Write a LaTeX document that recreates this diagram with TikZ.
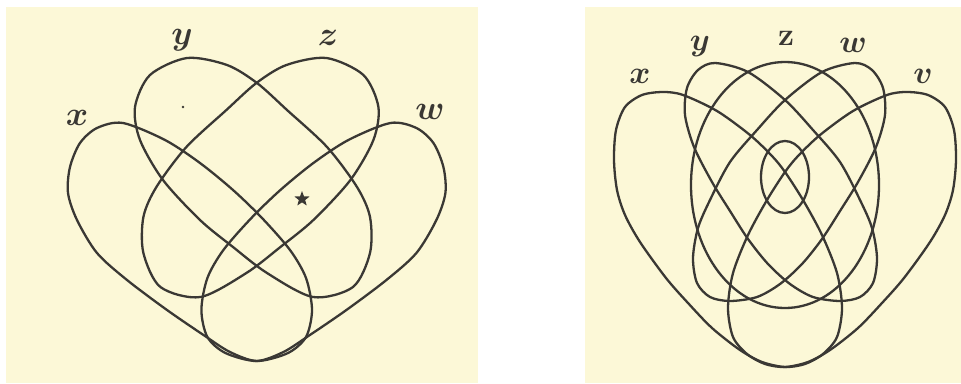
\RequirePackage{fix-cm}
\documentclass[tikz,border=0pt]{standalone}
\usetikzlibrary{shapes.geometric}
\definecolor{paper}{RGB}{252,248,215}
\definecolor{ink}{RGB}{58,56,52}
\begin{document}
\begin{tikzpicture}[x=1pt,y=-1pt,
  curve/.style={draw=ink, line width=2.3pt},
  lab/.style={text=ink, inner sep=0pt, font=\fontsize{34}{34}\selectfont\boldmath},
  labb/.style={text=ink, inner sep=0pt, font=\fontsize{32}{32}\selectfont\boldmath}]
\useasboundingbox (0,0) rectangle (961,383);
\fill[white] (0,0) rectangle (961,383);
\fill[paper] (6,7) rectangle (478,383);
\fill[paper] (585,7) rectangle (961,383);

% ---------- left: four terms ----------
% y
\draw[curve] plot[smooth cycle] coordinates {(187,58) (227,65) (257,83) (287,110) (327,147) (357,187) (370,217) (370,253) (353,287) (313,297) (267,273) (233,247) (200,220) (163,180) (140,140) (135,107) (150,75)};
% z (mirror of y)
\begin{scope}[shift={(513.4,0)}, xscale=-1]
\draw[curve] plot[smooth cycle] coordinates {(187,58) (227,65) (257,83) (287,110) (327,147) (357,187) (370,217) (370,253) (353,287) (313,297) (267,273) (233,247) (200,220) (163,180) (140,140) (135,107) (150,75)};
\end{scope}
% x
\draw[curve] plot[smooth cycle] coordinates {(123,123) (165,140) (200,163) (233,190) (262,218) (290,250) (306,278) (312,310) (306,337) (288,353) (257,361) (230,352) (205,336) (167,310) (127,280) (97,253) (77,220) (68,193) (70,167) (80,143) (97,128)};
% w (mirror of x)
\begin{scope}[shift={(513.4,0)}, xscale=-1]
\draw[curve] plot[smooth cycle] coordinates {(123,123) (165,140) (200,163) (233,190) (262,218) (290,250) (306,278) (312,310) (306,337) (288,353) (257,361) (230,352) (205,336) (167,310) (127,280) (97,253) (77,220) (68,193) (70,167) (80,143) (97,128)};
\end{scope}
\fill[ink] (183,107) circle (1.4pt);
\node[star, star points=5, star point ratio=2.4, fill=ink, inner sep=0pt, minimum size=16pt] (starmark) at (302,199) {};
\node[lab] (lx) at (77,118) {$x$};
\node[lab] (ly) at (182,40) {$y$};
\node[lab] (lz) at (328,38) {$z$};
\node[lab] (lw) at (430,112) {$w$};

% ---------- right: five terms ----------
% x
\draw[curve] plot[smooth cycle] coordinates {(663,92) (683,95) (717,111) (750,135) (772,156) (785,172) (803,200) (822,235) (837,273) (842,308) (837,337) (823,354) (805,364) (785,367) (762,362) (740,350) (712,328) (688,303) (666,278) (640,242) (625,215) (617,190) (614,160) (616,130) (625,107) (642,95)};
% v (mirror of x)
\begin{scope}[shift={(1570,0)}, xscale=-1]
\draw[curve] plot[smooth cycle] coordinates {(663,92) (683,95) (717,111) (750,135) (772,156) (785,172) (803,200) (822,235) (837,273) (842,308) (837,337) (823,354) (805,364) (785,367) (762,362) (740,350) (712,328) (688,303) (666,278) (640,242) (625,215) (617,190) (614,160) (616,130) (625,107) (642,95)};
\end{scope}
% y
\draw[curve] plot[smooth cycle] coordinates {(715,63) (748,72) (785,100) (813,130) (840,162) (860,200) (872,228) (877,258) (873,283) (860,297) (840,301) (813,297) (790,284) (768,264) (748,239) (730,211) (712,182) (694,147) (685,115) (687,88) (698,70)};
% w (mirror of y)
\begin{scope}[shift={(1570,0)}, xscale=-1]
\draw[curve] plot[smooth cycle] coordinates {(715,63) (748,72) (785,100) (813,130) (840,162) (860,200) (872,228) (877,258) (873,283) (860,297) (840,301) (813,297) (790,284) (768,264) (748,239) (730,211) (712,182) (694,147) (685,115) (687,88) (698,70)};
\end{scope}
% z
\draw[curve] (785,185) ellipse [x radius=94pt, y radius=123pt];
% small central ellipse
\draw[curve] (785,177) ellipse [x radius=24pt, y radius=36pt];
\node[labb] (rx) at (640,76) {$x$};
\node[labb] (ry) at (700,46) {$y$};
\node[labb] (rz) at (786,38) {$\mathbf{z}$};
\node[labb] (rw) at (853,45) {$w$};
\node[labb] (rv) at (923,76) {$v$};
\end{tikzpicture}
\end{document}
